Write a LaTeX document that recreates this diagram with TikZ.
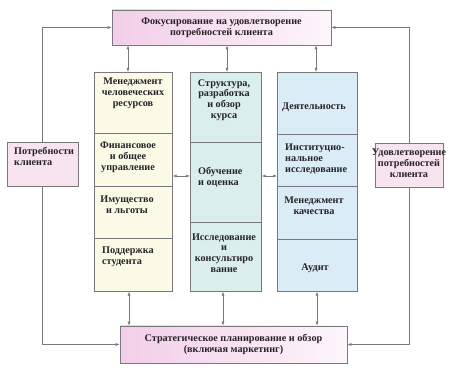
\documentclass[tikz,border=0pt]{standalone}
\usepackage{fontspec}
\setmainfont{Liberation Serif}
\usepackage{tikz}
\usetikzlibrary{positioning, arrows.meta, calc}
\definecolor{keypink}{RGB}{242, 206, 232}
\definecolor{keywpink}{RGB}{253, 246, 251}
\definecolor{keylpink}{RGB}{248, 228, 241}
\definecolor{keycream}{RGB}{251, 250, 230}
\definecolor{keyteal}{RGB}{218, 239, 236}
\definecolor{keyblue}{RGB}{218, 236, 246}
\definecolor{keyline}{RGB}{120, 120, 125}
\definecolor{keytext}{RGB}{40, 35, 40}

\tikzset{
  boxtext/.style={font=\bfseries\fontsize{10.2}{10.8}\selectfont, text=keytext, inner sep=1pt},
  bigbox/.style={draw=keyline, line width=0.6pt, left color=keypink, right color=keywpink, boxtext, align=center},
  sidebox/.style={draw=keyline, line width=0.6pt, fill=keylpink, boxtext, minimum width=71pt, minimum height=44pt},
  colbox/.style={draw=keyline, line width=0.6pt, anchor=north west, minimum height=219pt},
  celltext/.style={boxtext, align=center},
  cellleft/.style={boxtext, align=left},
  divline/.style={keyline, line width=0.6pt},
  link/.style={keyline, line width=0.6pt, -{Latex[length=4pt, width=3pt]}},
  dbllink/.style={keyline, line width=0.6pt, {Latex[length=4pt, width=3pt]}-{Latex[length=4pt, width=3pt]}}
}

\begin{document}
\begin{tikzpicture}[x=1pt, y=-1pt]
  \useasboundingbox (0,0) rectangle (450,371);

  % top and bottom
  \node[bigbox, minimum width=219pt, minimum height=35pt] (focus) at (221.5,27.5)
       {Фокусирование на удовлетворение\\потребностей клиента};
  \node[bigbox, minimum width=227pt, minimum height=37pt] (plan) at (233.5,344.5)
       {Стратегическое планирование и обзор\\(включая маркетинг)};

  % side boxes
  \node[sidebox] (needs) at (42.5,164) {};
  \node[cellleft, anchor=north west] (needst) at (13,146) {Потребности\\клиента};
  \node[sidebox, minimum width=68pt] (satisf) at (409,165) {};
  \node[celltext] (satisft) at (409,163) {Удовлетворение\\потребностей\\клиента};

  % columns
  \node[colbox, fill=keycream, minimum width=78pt] (hr) at (94,72) {};
  \node[colbox, fill=keyteal, minimum width=71pt] (course) at (190,72) {};
  \node[colbox, fill=keyblue, minimum width=80pt] (work) at (277,72) {};

  \draw[divline] (94,133) -- (172,133);
  \draw[divline] (94,186) -- (172,186);
  \draw[divline] (94,238) -- (172,238);
  \draw[divline] (190,142) -- (261,142);
  \draw[divline] (190,222) -- (261,222);
  \draw[divline] (277,134) -- (357,134);
  \draw[divline] (277,186) -- (357,186);
  \draw[divline] (277,239) -- (357,239);

  % left column
  \node[celltext] (hrm) at (133,93) {Менеджмент\\человеческих\\ресурсов};
  \node[celltext] (fin) at (128,157) {Финансовое\\и общее\\управление};
  \node[celltext] (prop) at (127,205) {Имущество\\и льготы};
  \node[cellleft, anchor=west] (supp) at (101,257) {Поддержка\\студента};

  % middle column
  \node[celltext] (struct) at (224,100) {Структура,\\разработка\\и обзор\\курса};
  \node[cellleft, anchor=west] (teach) at (197,177) {Обучение\\и оценка};
  \node[celltext] (res) at (224,253) {Исследование\\и\\консультиро\\вание};

  % right column
  \node[celltext] (act) at (314,107) {Деятельность};
  \node[cellleft, anchor=west] (inst) at (284,159) {Институцио-\\нальное\\исследование};
  \node[celltext] (qual) at (314,206) {Менеджмент\\качества};
  \node[celltext] (audit) at (315,268) {Аудит};

  % links
  \draw[dbllink] (focus.south -| 128,0) -- (hr.north -| 128,0);
  \draw[dbllink] (focus.south -| 227,0) -- (course.north -| 227,0);
  \draw[dbllink] (focus.south -| 316,0) -- (work.north -| 316,0);
  \draw[dbllink] (hr.south -| 129,0) -- (plan.north -| 129,0);
  \draw[dbllink] (course.south -| 223,0) -- (plan.north -| 223,0);
  \draw[dbllink] (work.south -| 317,0) -- (plan.north -| 317,0);
  \draw[dbllink] (hr.east |- 0,176) -- (course.west |- 0,176);
  \draw[dbllink] (course.east |- 0,176) -- (work.west |- 0,176);

  \draw[link] (needs.north) |- (focus.west);
  \draw[link] (needs.south) |- (plan.west);
  \draw[link] (satisf.north) |- (focus.east);
  \draw[link] (satisf.south) |- (plan.east);
\end{tikzpicture}
\end{document}
